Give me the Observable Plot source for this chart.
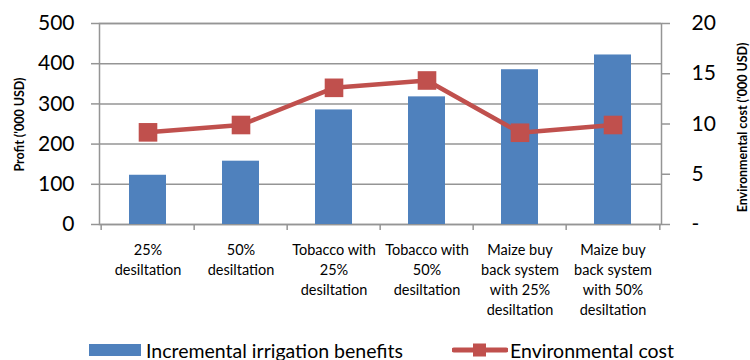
<!DOCTYPE html>
<html>
<head>
<meta charset="utf-8">
<script src="https://cdn.jsdelivr.net/npm/d3@7"></script>
<script src="https://cdn.jsdelivr.net/npm/@observablehq/plot@0.6"></script>
<style>
  body { margin: 0; background: #fff; font-family: Lato, "Open Sans", sans-serif; }
  #wrap { position: relative; width: 750px; }
  .ttl { position: absolute; font-weight: bold; font-size: 12.5px; white-space: nowrap; color: #000; }
  #legend { position: relative; width: 750px; height: 40px; font-size: 19.5px; color: #000; }
  .item { position: absolute; top: 18px; display: flex; align-items: center; height: 24px; }
</style>
</head>
<body>
<div id="wrap"></div>
<div id="legend">
  <div class="item" style="left:89px">
    <svg width="52" height="12" style="margin-right:5px"><rect width="52" height="12" fill="#4F81BD"></rect></svg>
    <span>Incremental irrigation benefits</span>
  </div>
  <div class="item" style="left:452px">
    <svg width="56" height="14" style="margin-right:2px"><line x1="2" x2="54" y1="7" y2="7" stroke="#C0504D" stroke-width="5" stroke-linecap="round"></line><rect x="21" y="0.5" width="13" height="13" fill="#C0504D"></rect></svg>
    <span>Environmental cost</span>
  </div>
</div>
<script>
const categories = [
  "25%\ndesiltation",
  "50%\ndesiltation",
  "Tobacco with\n25%\ndesiltation",
  "Tobacco with\n50%\ndesiltation",
  "Maize buy\nback system\nwith 25%\ndesiltation",
  "Maize buy\nback system\nwith 50%\ndesiltation"
];
const benefits = [122.5, 157.5, 285, 317.5, 385, 421.7];
const envCost = [9.17, 9.9, 13.6, 14.33, 9.13, 9.9];
const leftTicks = [0, 100, 200, 300, 400, 500];
const rightTicks = [0, 5, 10, 15, 20];
const ratio = 25; // right axis 20 ↔ left axis 500

const data = categories.map((c, i) => ({cat: c, benefit: benefits[i], cost: envCost[i]}));

const W = 750, H = 320, mL = 99, mR = 89, mT = 23, mB = 96;
const step = (W - mL - mR) / categories.length;
const gray = "#959595";
const font = "Lato, 'Open Sans', sans-serif";

const chart = Plot.plot({
  width: W, height: H,
  marginLeft: mL, marginRight: mR, marginTop: mT, marginBottom: mB,
  style: {fontFamily: font, color: "#000", background: "#fff"},
  x: {domain: categories, paddingInner: 0.6, paddingOuter: 0.3, axis: null},
  y: {domain: [0, 500], axis: null},
  marks: [
    Plot.gridY(leftTicks, {stroke: gray, strokeOpacity: 1, strokeWidth: 1.5}),
    Plot.frame({stroke: gray, strokeWidth: 1.5}),
    Plot.barY(data, {x: "cat", y: "benefit", fill: "#4F81BD"}),
    Plot.line(data, {x: "cat", y: d => d.cost * ratio, stroke: "#C0504D", strokeWidth: 4.5}),
    Plot.dot(data, {x: "cat", y: d => d.cost * ratio, symbol: "square", r: 10.5, fill: "#C0504D"}),
    Plot.axisY(leftTicks, {anchor: "left", label: null, tickSize: 8, tickPadding: 17, fontSize: 21, stroke: gray, strokeWidth: 1.5, fill: "#000"}),
    Plot.axisY(rightTicks.map(v => v * ratio), {anchor: "right", label: null, tickSize: 8, tickPadding: 22, fontSize: 21,
      tickFormat: d => d === 0 ? "-" : String(d / ratio), stroke: gray, strokeWidth: 1.5, fill: "#000", textAnchor: "start"}),
    Plot.axisX(categories, {anchor: "bottom", label: null, tickSize: 6, tickFormat: () => "", dx: -step / 2, stroke: gray, strokeWidth: 1.5}),
    Plot.axisX([categories[categories.length - 1]], {anchor: "bottom", label: null, tickSize: 6, tickFormat: () => "", dx: step / 2, stroke: gray, strokeWidth: 1.5}),
    Plot.axisX(categories, {anchor: "bottom", label: null, tickSize: 0, tickPadding: 16, fontSize: 14.5, lineHeight: 1.38, lineAnchor: "top", fill: "#000"})
  ]
});
const wrap = document.getElementById("wrap");
wrap.appendChild(chart);

const t1 = document.createElement("div");
t1.className = "ttl";
t1.textContent = "Profit ('000 USD)";
wrap.appendChild(t1);
const t2 = document.createElement("div");
t2.className = "ttl";
t2.textContent = "Environmental cost  ('000 USD)";
wrap.appendChild(t2);
function placeRot(el, cx, cy) {
  const w = el.offsetWidth, h = el.offsetHeight;
  el.style.left = (cx - w / 2) + "px";
  el.style.top = (cy - h / 2) + "px";
  el.style.transform = "rotate(-90deg)";
}
placeRot(t1, 19, 124);
placeRot(t2, 743, 127);
</script>
</body>
</html>
